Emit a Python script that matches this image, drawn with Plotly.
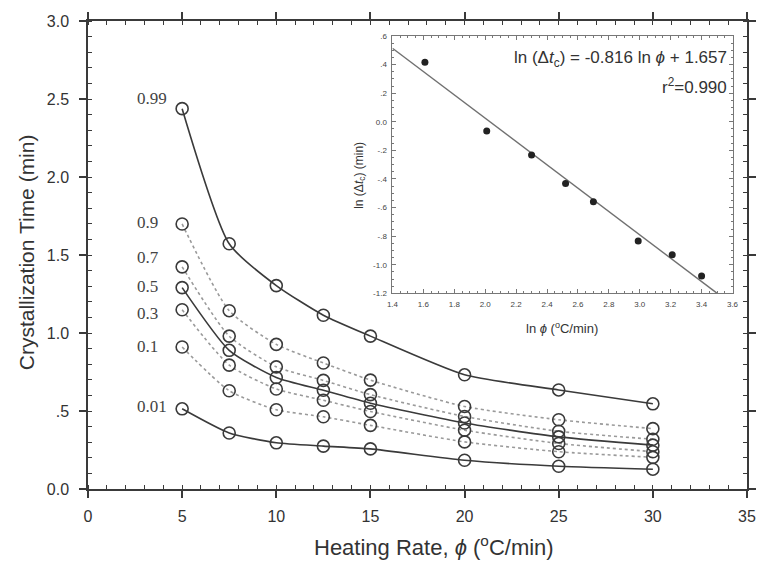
import plotly.graph_objects as go

# Heating rates (°C/min)
phi = [5, 7.5, 10, 12.5, 15, 20, 25, 30]

# Crystallization time (min) for each relative crystallinity level
t_001 = [0.514, 0.359, 0.296, 0.275, 0.257, 0.184, 0.146, 0.127]
t_01 = [0.910, 0.630, 0.508, 0.463, 0.408, 0.302, 0.239, 0.203]
t_03 = [1.149, 0.794, 0.641, 0.569, 0.497, 0.377, 0.292, 0.239]
t_05 = [1.291, 0.889, 0.715, 0.633, 0.550, 0.423, 0.334, 0.281]
t_07 = [1.424, 0.980, 0.783, 0.696, 0.605, 0.465, 0.370, 0.319]
t_09 = [1.699, 1.143, 0.927, 0.808, 0.698, 0.529, 0.444, 0.387]
t_099 = [2.438, 1.572, 1.304, 1.114, 0.980, 0.732, 0.635, 0.546]

series_labels = ["0.01", "0.1", "0.3", "0.5", "0.7", "0.9", "0.99"]
label_y = [0.529, 0.912, 1.128, 1.297, 1.481, 1.710, 2.503]

# Inset: ln(crystallization period) vs ln(heating rate)
ln_phi = [1.61, 2.01, 2.30, 2.52, 2.70, 2.99, 3.21, 3.40]
ln_dtc = [0.417, -0.065, -0.232, -0.432, -0.560, -0.833, -0.929, -1.078]
fit_slope = -0.816
fit_intercept = 1.657
fit_r2 = 0.990

y_tickvals = [0, 0.5, 1.0, 1.5, 2.0, 2.5, 3.0]
y_ticktext = ["0.0", ".5", "1.0", "1.5", "2.0", "2.5", "3.0"]
x_tickvals = [0, 5, 10, 15, 20, 25, 30, 35]

inset_xvals = [1.4, 1.6, 1.8, 2.0, 2.2, 2.4, 2.6, 2.8, 3.0, 3.2, 3.4, 3.6]
inset_xtext = ["1.4", "1.6", "1.8", "2.0", "2.2", "2.4", "2.6", "2.8", "3.0", "3.2", "3.4", "3.6"]
inset_yvals = [-1.2, -1.0, -0.8, -0.6, -0.4, -0.2, 0.0, 0.2, 0.4, 0.6]
inset_ytext = ["-1.2", "-1.0", "-.8", "-.6", "-.4", "-.2", "0.0", ".2", ".4", ".6"]

INK = "#3a3a3a"
DOT = "#9a9a9a"
SANS = "Liberation Sans, Arial, sans-serif"
SERIF = "Liberation Serif, Times New Roman, serif"

fig = go.Figure()

curves = [
    (t_001, "solid"), (t_01, "dot"), (t_03, "dot"), (t_05, "solid"),
    (t_07, "dot"), (t_09, "dot"), (t_099, "solid"),
]
for vals, style in curves:
    if style == "solid":
        line = dict(color=INK, width=1.6, shape="spline", smoothing=0.6)
    else:
        line = dict(color=DOT, width=1.6, dash="dot", shape="spline", smoothing=0.6)
    fig.add_trace(go.Scatter(x=phi, y=vals, mode="lines", line=line,
                             xaxis="x", yaxis="y", hoverinfo="skip"))

for vals, _ in curves:
    fig.add_trace(go.Scatter(
        x=phi, y=vals, mode="markers",
        marker=dict(symbol="circle-open", size=12, color=INK, line=dict(width=1.6, color=INK)),
        xaxis="x", yaxis="y"))

# Inset data and fitted line
fit_x = [1.4, (-1.2 - fit_intercept) / fit_slope]
fit_y = [fit_slope * v + fit_intercept for v in fit_x]
fig.add_trace(go.Scatter(x=fit_x, y=fit_y, mode="lines",
                         line=dict(color="#707070", width=1.4),
                         xaxis="x2", yaxis="y2", hoverinfo="skip"))
fig.add_trace(go.Scatter(x=ln_phi, y=ln_dtc, mode="markers",
                         marker=dict(symbol="circle", size=7, color="#222"),
                         xaxis="x2", yaxis="y2"))

main_axis = dict(
    showgrid=False, zeroline=False, showline=True, linecolor=INK, linewidth=1.5,
    ticks="outside", ticklen=7, tickwidth=1.5, tickcolor=INK, mirror="ticks",
    tickfont=dict(family=SANS, size=16, color="#333"),
)
inner_ticks = dict(
    showgrid=False, zeroline=False, showline=False, ticks="inside", ticklen=7,
    tickwidth=1.5, tickcolor=INK, mirror="ticks", showticklabels=False,
)
inset_axis = dict(
    showgrid=False, zeroline=False, showline=True, linecolor="#777", linewidth=1,
    ticks="inside", ticklen=4, tickwidth=1, tickcolor="#777", mirror="ticks",
    tickfont=dict(family=SANS, size=8, color="#444"), ticklabelstandoff=3,
)

fig.update_layout(
    width=768, height=567,
    margin=dict(l=88, r=15, t=17, b=78),
    paper_bgcolor="white", plot_bgcolor="white",
    showlegend=False,
    xaxis=dict(main_axis, range=[0, 35], tickvals=x_tickvals, ticklabelstandoff=5,
               minor=dict(dtick=1, ticks="inside", ticklen=4, tickwidth=1, tickcolor=INK)),
    yaxis=dict(main_axis, range=[0, 3], tickvals=y_tickvals, ticktext=y_ticktext,
               ticklabelstandoff=7,
               minor=dict(dtick=0.1, ticks="inside", ticklen=4, tickwidth=1, tickcolor=INK)),
    xaxis3=dict(inner_ticks, overlaying="x", anchor="y", range=[0, 35], tickvals=x_tickvals),
    yaxis3=dict(inner_ticks, overlaying="y", anchor="x", range=[0, 3], tickvals=y_tickvals),
    xaxis2=dict(inset_axis, domain=[0.462, 0.978], anchor="y2", range=[1.4, 3.6],
                tickvals=inset_xvals, ticktext=inset_xtext,
                minor=dict(dtick=0.05, ticks="inside", ticklen=2, tickwidth=1, tickcolor="#777")),
    yaxis2=dict(inset_axis, domain=[0.418, 0.968], anchor="x2", range=[-1.2, 0.6],
                tickvals=inset_yvals, ticktext=inset_ytext,
                minor=dict(dtick=0.05, ticks="inside", ticklen=2, tickwidth=1, tickcolor="#777")),
)

annotations = []
for lab, ly in zip(series_labels, label_y):
    annotations.append(dict(x=2.5, y=ly, xref="x", yref="y", text=lab, showarrow=False,
                            xanchor="left", yanchor="middle",
                            font=dict(family=SERIF, size=17, color="#444")))

annotations += [
    dict(x=-0.094, y=0.506, xref="paper", yref="paper", text="Crystallization Time (min)",
         textangle=-90, showarrow=False, xanchor="center", yanchor="middle",
         font=dict(family=SANS, size=21, color="#333")),
    dict(x=0.525, y=-0.1215, xref="paper", yref="paper",
         text="Heating Rate, <i>ϕ</i> (<sup>o</sup>C/min)",
         showarrow=False, xanchor="center", yanchor="middle",
         font=dict(family=SANS, size=22, color="#333")),
    dict(x=0.4125, y=0.671, xref="paper", yref="paper",
         text="ln (Δ<i>t</i><sub>c</sub>) (min)", textangle=-90,
         showarrow=False, xanchor="center", yanchor="middle",
         font=dict(family=SANS, size=12, color="#333")),
    dict(x=0.720, y=0.344, xref="paper", yref="paper",
         text="ln <i>ϕ</i> (<sup>o</sup>C/min)",
         showarrow=False, xanchor="center", yanchor="middle",
         font=dict(family=SANS, size=13, color="#333")),
    dict(x=0.9734, y=0.919, xref="paper", yref="paper",
         text=f"ln (Δ<i>t</i><sub>c</sub>) = {fit_slope} ln <i>ϕ</i> + {fit_intercept}",
         showarrow=False, xanchor="right", yanchor="middle",
         font=dict(family=SANS, size=17, color="#333")),
    dict(x=0.9734, y=0.862, xref="paper", yref="paper",
         text=f"r<sup>2</sup>={fit_r2:.3f}",
         showarrow=False, xanchor="right", yanchor="middle",
         font=dict(family=SANS, size=17, color="#333")),
]
fig.update_layout(annotations=annotations)

fig.write_html("out.html")
